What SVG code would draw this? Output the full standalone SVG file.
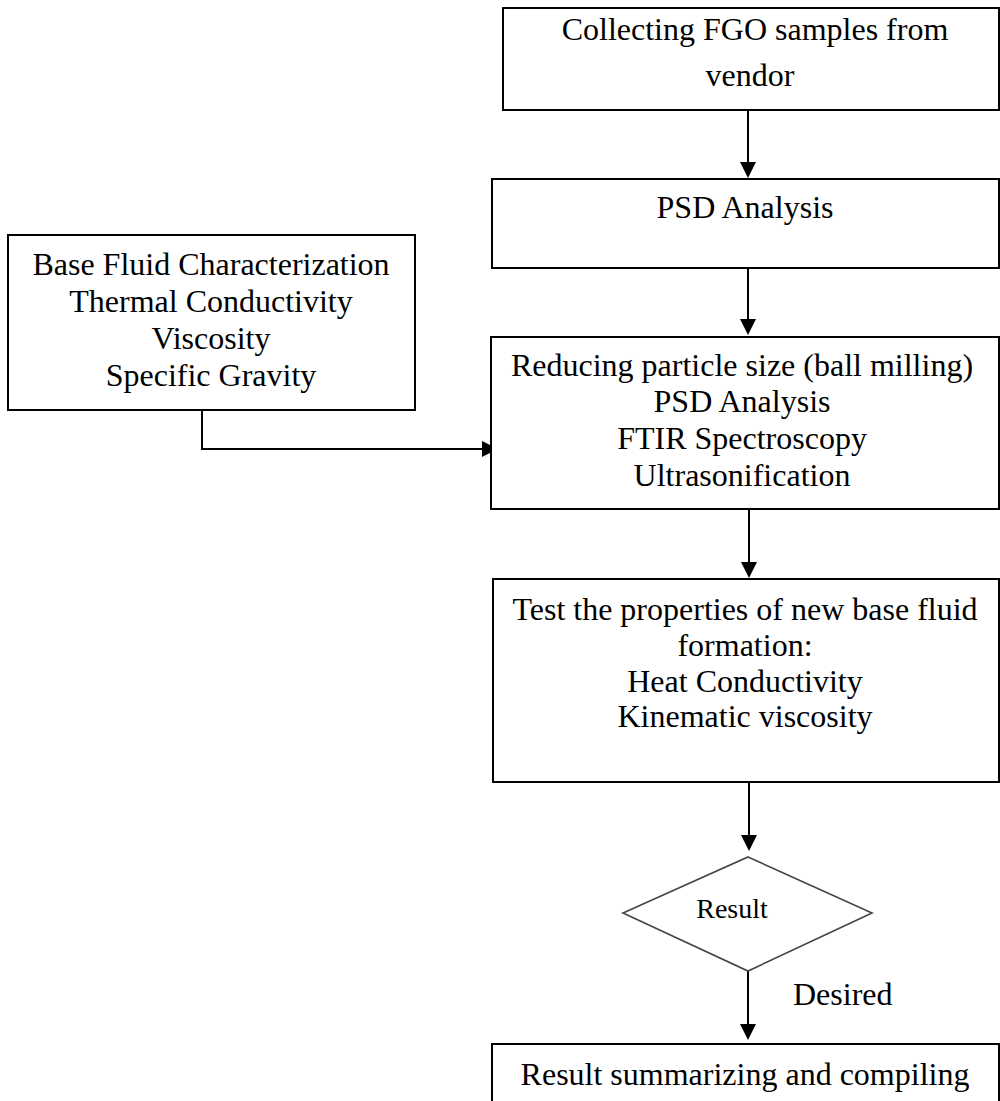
<svg xmlns="http://www.w3.org/2000/svg" width="1000" height="1101" viewBox="0 0 1000 1101">
<style>
.box{fill:#fff;stroke:#000;stroke-width:2}
.dia{fill:#fff;stroke:#444;stroke-width:1.6}
.t{font-family:"Liberation Serif","Times New Roman",serif;font-size:32px;fill:#000;text-anchor:middle}
.r{font-family:"Liberation Serif","Times New Roman",serif;font-size:28px;fill:#000;text-anchor:middle}
.c{fill:none;stroke:#000;stroke-width:2}
</style>
<defs>
<marker id="ah" markerUnits="userSpaceOnUse" markerWidth="16" markerHeight="16" refX="12" refY="8" orient="auto">
<path d="M0,0 L16,8 L0,16 z" fill="#000"/>
</marker>
</defs>
<rect width="1000" height="1101" fill="#fff"/>
<g id="connectors">
<line class="c" x1="748" y1="110" x2="748" y2="174" marker-end="url(#ah)"/>
<line class="c" x1="748" y1="268" x2="748" y2="331" marker-end="url(#ah)"/>
<polyline class="c" points="202,410 202,449 494,449" marker-end="url(#ah)"/>
<line class="c" x1="749" y1="509" x2="749" y2="574" marker-end="url(#ah)"/>
<line class="c" x1="749" y1="782" x2="749" y2="847" marker-end="url(#ah)"/>
<line class="c" x1="748" y1="971" x2="748" y2="1036" marker-end="url(#ah)"/>
</g>
<g id="n1">
<rect class="box" x="503" y="8" width="496" height="102"/>
<text class="t" x="755" y="40">Collecting FGO samples from</text>
<text class="t" x="750" y="86">vendor</text>
</g>
<g id="n2">
<rect class="box" x="492" y="179" width="507" height="89"/>
<text class="t" x="745" y="218">PSD Analysis</text>
</g>
<g id="n3">
<rect class="box" x="8" y="235" width="407" height="175"/>
<text class="t" x="211" y="275">Base Fluid Characterization</text>
<text class="t" x="211" y="312">Thermal Conductivity</text>
<text class="t" x="211" y="349">Viscosity</text>
<text class="t" x="211" y="386">Specific Gravity</text>
</g>
<g id="n4">
<rect class="box" x="491" y="337" width="508" height="172"/>
<text class="t" x="742" y="376">Reducing particle size (ball milling)</text>
<text class="t" x="742" y="412">PSD Analysis</text>
<text class="t" x="742" y="449">FTIR Spectroscopy</text>
<text class="t" x="742" y="486">Ultrasonification</text>
</g>
<g id="n5">
<rect class="box" x="493" y="579" width="506" height="203"/>
<text class="t" x="745" y="620">Test the properties of new base fluid</text>
<text class="t" x="745" y="656">formation:</text>
<text class="t" x="745" y="692">Heat Conductivity</text>
<text class="t" x="745" y="727">Kinematic viscosity</text>
</g>
<g id="n6">
<polygon class="dia" points="748,857 872,913 748,971 623,913"/>
<text class="r" x="732" y="918">Result</text>
</g>
<g id="lbl">
<text class="t" x="793" y="1005" style="text-anchor:start">Desired</text>
</g>
<g id="n7">
<rect class="box" x="492" y="1044" width="507" height="80"/>
<text class="t" x="745" y="1085">Result summarizing and compiling</text>
</g>
</svg>
